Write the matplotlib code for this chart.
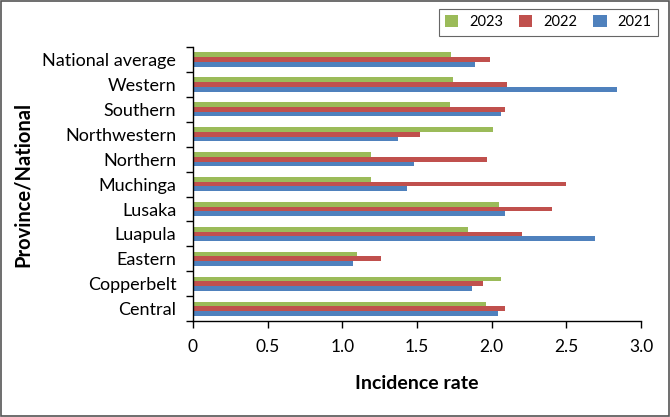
import matplotlib
matplotlib.use("Agg")
import matplotlib.pyplot as plt
import numpy as np

plt.rcParams["font.family"] = ["Lato", "DejaVu Sans"]

# categories listed bottom -> top
provinces = ["Central", "Copperbelt", "Eastern", "Luapula", "Lusaka", "Muchinga",
             "Northern", "Northwestern", "Southern", "Western", "National average"]
rate_2023 = [1.96, 2.06, 1.10, 1.84, 2.05, 1.19, 1.19, 2.01, 1.72, 1.74, 1.73]
rate_2022 = [2.09, 1.94, 1.26, 2.20, 2.40, 2.50, 1.97, 1.52, 2.09, 2.10, 1.99]
rate_2021 = [2.04, 1.87, 1.07, 2.69, 2.09, 1.43, 1.48, 1.37, 2.06, 2.84, 1.89]
x_ticks = [0, 0.5, 1.0, 1.5, 2.0, 2.5, 3.0]
x_tick_labels = ["0", "0.5", "1.0", "1.5", "2.0", "2.5", "3.0"]

fig = plt.figure(figsize=(6.7, 4.17), dpi=100)
ax = fig.add_axes([0.288, 0.230, 0.669, 0.657])

y = np.arange(len(provinces))
h = 0.19
ax.barh(y + h, rate_2023, height=h, color="#9BBB59", label="2023")
ax.barh(y, rate_2022, height=h, color="#C0504D", label="2022")
ax.barh(y - h, rate_2021, height=h, color="#4F81BD", label="2021")

ax.set_xlim(0, 3.0)
ax.set_ylim(-0.5, len(provinces) - 0.5)
ax.set_xticks(x_ticks)
ax.set_xticklabels(x_tick_labels, fontsize=12.5)
ax.set_yticks(y)
ax.set_yticklabels(provinces, fontsize=13)
ax.tick_params(axis="y", length=0, pad=12)
ax.set_yticks(np.arange(-0.5, len(provinces), 1.0), minor=True)
ax.tick_params(axis="y", which="minor", length=5, width=1.0, direction="out")
ax.tick_params(axis="x", length=5, width=1.0, direction="out", pad=8)

for s in ["top", "right"]:
    ax.spines[s].set_visible(False)
for s in ["left", "bottom"]:
    ax.spines[s].set_linewidth(1.0)
    ax.spines[s].set_color("black")

ax.set_xlabel("Incidence rate", fontsize=14, fontweight="bold", labelpad=14)
ax.set_ylabel("Province/National", fontsize=14.5, fontweight="bold")
ax.yaxis.set_label_coords(-0.357, 0.5)

leg = ax.legend(loc="upper right", bbox_to_anchor=(0.993, 0.997), bbox_transform=fig.transFigure,
                ncol=3, frameon=True, fancybox=False, fontsize=10.5,
                handlelength=0.9, handleheight=0.9, handletextpad=0.75,
                columnspacing=1.1, borderpad=0.45)
leg.get_frame().set_edgecolor("#404040")
leg.get_frame().set_linewidth(0.8)

# outer frame
fig.patches.append(plt.Rectangle((0.002, 0.003), 0.996, 0.994, transform=fig.transFigure,
                                 fill=False, edgecolor="#555555", linewidth=1.2))

fig.savefig("out.png", dpi=100)
plt.close(fig)
